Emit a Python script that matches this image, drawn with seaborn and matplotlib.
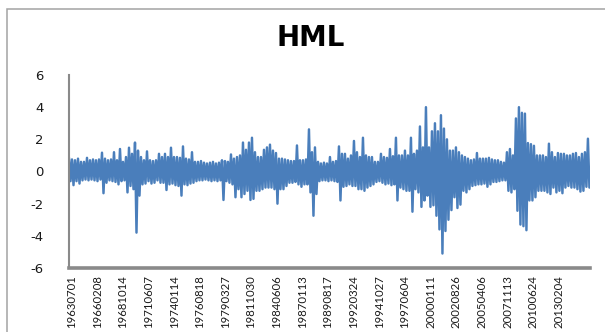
import numpy as np
import pandas as pd
import matplotlib
matplotlib.use("Agg")
import matplotlib.pyplot as plt
import seaborn as sns
from matplotlib.patches import Rectangle
from matplotlib.transforms import ScaledTranslation

# Daily HML factor return (%), 1963-07 onwards, summarised block by block:
# the highest and lowest daily value reached in each block of trading days.
BLOCK_DAYS = 76

hml_high = [
    0.85, 0.75, 0.7, 0.8, 0.6, 0.6, 0.85, 0.7, 0.75, 0.7, 0.75, 1.17, 0.8, 0.7, 0.75,
    1.2, 0.7, 1.4, 0.6, 0.9, 1.48, 1.1, 1.8, 1.3, 0.9, 0.7, 1.25, 0.7, 0.65, 0.7,
    1.1, 0.9, 1.1, 0.9, 1.48,
    0.9, 0.9, 0.85, 1.56, 0.8, 0.75, 1.2, 0.6, 0.6, 0.65, 0.55, 0.5, 0.55, 0.6, 0.5,
    0.55, 0.7, 0.65, 0.6, 1.06, 0.8, 0.9, 1.0, 1.8, 1.35, 1.8, 2.1, 1.2, 0.9, 0.9,
    1.35, 1.5, 1.67, 1.3,
    1.15, 0.8, 0.8, 0.75, 0.7, 0.65, 0.65, 1.62, 0.7, 0.7, 0.75, 2.62, 1.2, 1.5, 0.6,
    0.5, 0.55, 0.5, 0.9, 0.6, 0.65, 1.56, 1.1, 1.1, 0.8, 1.0, 1.9, 1.2, 0.9, 2.1,
    1.0, 0.9, 0.9, 0.6, 0.6,
    1.1, 0.9, 0.85, 1.4, 0.95, 2.1, 1.0, 1.0, 1.3, 1.0, 2.1, 1.1, 1.3, 2.8, 1.5,
    4.0, 1.5, 2.5, 3.0, 2.5, 3.5, 2.67, 2.0, 1.3, 1.3, 1.5, 1.2, 1.0, 0.9, 0.8,
    0.7, 0.75, 1.15, 0.8, 0.8,
    0.8, 0.85, 0.75, 0.7, 0.7, 0.6, 0.55, 1.2, 1.4, 1.0, 3.3, 4.0, 3.65, 3.6, 1.77,
    1.7, 1.6, 1.0, 1.0, 1.0, 0.9, 1.73, 1.2, 0.9, 1.15, 1.1, 1.1, 1.0, 1.0, 1.1,
    1.15, 0.9, 1.1, 1.2, 2.04,
]

hml_low = [
    -0.6, -0.85, -0.6, -0.75, -0.55, -0.5, -0.55, -0.5, -0.55, -0.6, -0.5, -1.35, -0.7, -0.55, -0.6,
    -0.65, -0.8, -0.6, -0.55, -1.3, -0.9, -1.1, -3.8, -1.5, -0.8, -0.75, -0.6, -0.75, -0.7, -0.55,
    -0.7, -0.7, -1.15, -0.8, -0.75,
    -0.85, -0.9, -1.5, -0.8, -0.85, -0.75, -0.7, -0.6, -0.55, -0.55, -0.5, -0.55, -0.6, -0.55, -0.6,
    -0.55, -1.77, -0.6, -0.7, -0.8, -1.6, -1.1, -1.6, -1.4, -1.2, -1.77, -1.7, -1.2, -1.2, -1.1,
    -1.0, -1.0, -1.0, -1.1,
    -2.0, -1.1, -1.1, -0.9, -0.7, -0.7, -0.65, -0.8, -0.95, -0.8, -0.8, -1.3, -2.75, -1.4, -0.6,
    -0.55, -0.55, -0.6, -0.55, -0.6, -0.65, -1.8, -0.95, -0.9, -0.8, -0.9, -0.9, -1.1, -1.1, -1.2,
    -1.0, -0.9, -0.8, -0.65, -0.6,
    -0.7, -0.8, -0.75, -0.85, -0.8, -1.8, -1.0, -1.1, -1.2, -1.2, -2.5, -1.1, -1.3, -2.2, -1.8,
    -1.5, -2.2, -2.1, -2.75, -3.6, -5.1, -3.7, -3.0, -2.4, -1.6, -2.27, -2.06, -1.2, -1.3, -1.1,
    -0.9, -0.85, -0.8, -0.8, -0.75,
    -0.95, -0.8, -0.65, -0.65, -0.6, -0.55, -0.55, -1.2, -1.3, -1.1, -2.44, -3.3, -3.4, -3.65, -1.8,
    -1.8, -1.6, -1.2, -1.2, -1.2, -1.3, -1.4, -1.0, -1.3, -1.2, -1.35, -1.0, -0.9, -1.0, -1.0,
    -1.1, -1.25, -1.2, -0.95, -1.0,
]

# Category-axis labels (one every LABEL_EVERY trading days)
LABEL_EVERY = 650
date_labels = [
    "19630701", "19660208", "19681014", "19710607", "19740114", "19760818",
    "19790327", "19811030", "19840606", "19870113", "19890817", "19920324",
    "19941027", "19970604", "20000111", "20020826", "20050406", "20071113",
    "20100624", "20130204",
]
y_ticks = [-6, -4, -2, 0, 2, 4, 6]

# Long-form table: each block contributes its high then its low
n_blocks = len(hml_high)
day = np.empty(2 * n_blocks)
day[0::2] = np.arange(n_blocks) * BLOCK_DAYS
day[1::2] = np.arange(n_blocks) * BLOCK_DAYS + BLOCK_DAYS / 2
value = np.empty(2 * n_blocks)
value[0::2] = hml_high
value[1::2] = hml_low
df = pd.DataFrame({"day": day, "HML": value})

sns.set_style("white")
plt.rcParams["font.family"] = ["DejaVu Sans"]
plt.rcParams["axes.unicode_minus"] = False

W, H = 605, 332
fig = plt.figure(figsize=(W / 100, H / 100), dpi=100)
fig.patch.set_facecolor("white")

# chart frame
fig.patches.append(Rectangle((7 / W, -0.1), 1.2, (H - 9) / H + 0.1,
                             transform=fig.transFigure, fill=False,
                             edgecolor="#a3a3a3", linewidth=1.1))

ax_left, ax_right, ax_top, ax_bottom = 69, 589.5, 75, 268
ax = fig.add_axes([ax_left / W, 1 - ax_bottom / H,
                   (ax_right - ax_left) / W, (ax_bottom - ax_top) / H])

sns.lineplot(data=df, x="day", y="HML", ax=ax, estimator=None, sort=False,
             color="#4a7ebb", linewidth=1.75)

ax.set_xlim(0, (n_blocks - 1) * BLOCK_DAYS + BLOCK_DAYS / 2 + 2)
ax.set_ylim(-6, 6)
ax.set_xlabel("")
ax.set_ylabel("")

ax.set_yticks(y_ticks)
ax.set_yticklabels([str(t) for t in y_ticks], fontsize=9.5, color="#1a1a1a",
                   family="DejaVu Sans")
ax.tick_params(axis="y", length=5, width=0.8, color="#8a8a8a", pad=13.5)

ax.set_xticks(np.arange(len(date_labels)) * LABEL_EVERY)
ax.set_xticklabels(date_labels, rotation=90, fontsize=8.2, color="#1a1a1a",
                   family="Lato")
ax.tick_params(axis="x", length=0, pad=5)
shift = ScaledTranslation(2.5 / 100, 0, fig.dpi_scale_trans)
for lbl in ax.get_xticklabels():
    lbl.set_transform(lbl.get_transform() + shift)

for side in ("top", "right"):
    ax.spines[side].set_visible(False)
ax.spines["left"].set_color("#8a8a8a")
ax.spines["left"].set_linewidth(1.5)
ax.spines["bottom"].set_color("#8a8a8a")
ax.spines["bottom"].set_linewidth(2.6)
ax.spines["left"].set_zorder(3)
ax.grid(False)

fig.text(311 / W, 1 - 46.5 / H, "HML", ha="center", va="baseline",
         fontsize=20, fontweight="bold", family="DejaVu Sans", color="black")

fig.savefig("out.png", dpi=100, facecolor="white")
